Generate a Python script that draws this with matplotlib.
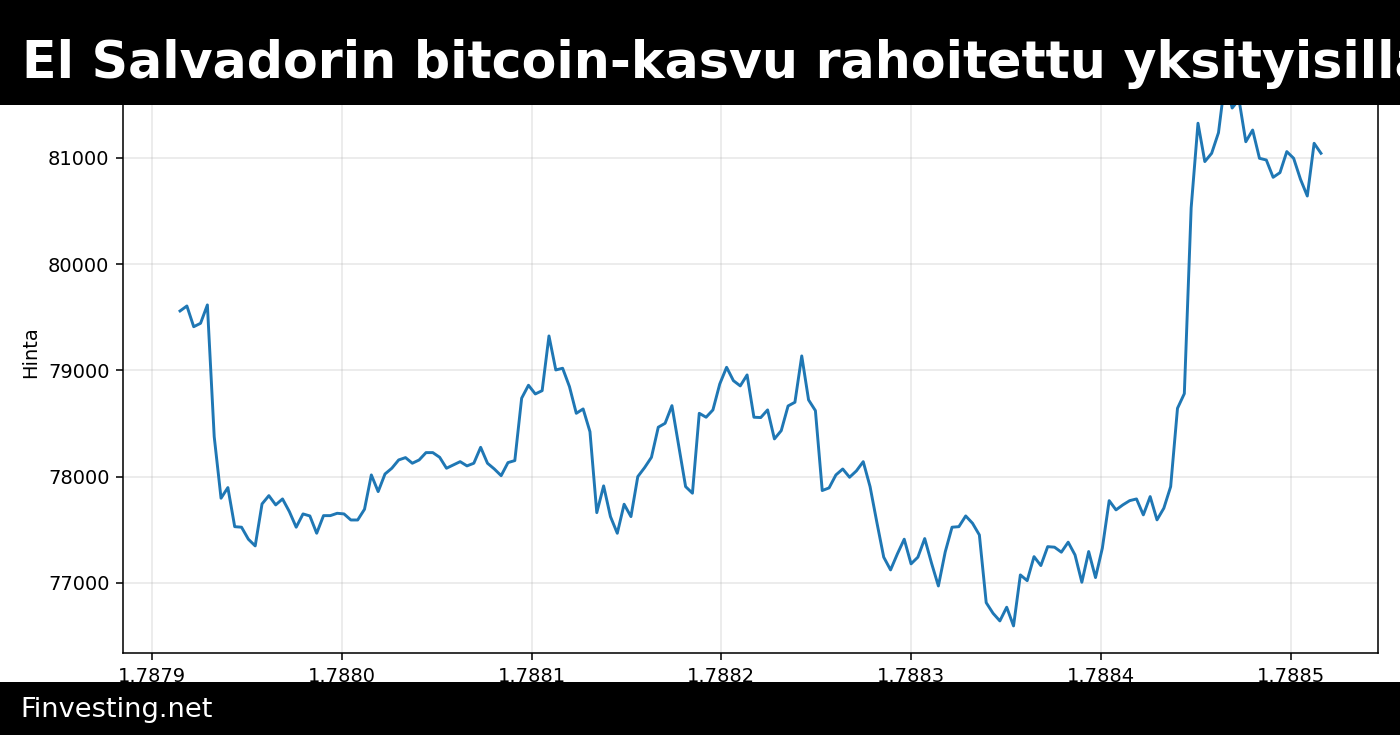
import numpy as np
import matplotlib
matplotlib.use("Agg")
import matplotlib.pyplot as plt
from matplotlib.patches import Rectangle

# ---- data -------------------------------------------------------------
title = "El Salvadorin bitcoin-kasvu rahoitettu yksityisillä varoilla"
footer = "Finvesting.net"
y_label = "Hinta"
y_ticks = [77000, 78000, 79000, 80000, 81000]

start_ts = 1787914800          # epoch seconds of first hourly sample
step_s = 3600                  # hourly samples

prices = [
    79560, 79607, 79412, 79444, 79617, 78377, 77798, 77898, 77530, 77525,
    77412, 77349, 77744, 77822, 77735, 77791, 77672, 77525, 77650, 77631,
    77468, 77634, 77634, 77656, 77650, 77593, 77593, 77694, 78017, 77860,
    78026, 78080, 78158, 78180, 78127, 78158, 78227, 78227, 78183, 78080,
    78111, 78142, 78102, 78127, 78277, 78127, 78073, 78010, 78133, 78152,
    78739, 78861, 78779, 78810, 79325, 79005, 79021, 78848, 78597, 78638,
    78424, 77662, 77914, 77625, 77468, 77741, 77625, 78001, 78086, 78183,
    78466, 78503, 78669, 78290, 77907, 77845, 78597, 78560, 78629, 78873,
    79030, 78904, 78855, 78958, 78560, 78557, 78629, 78356, 78434, 78666,
    78701, 79137, 78723, 78622, 77870, 77895, 78017, 78073, 77995, 78055,
    78142, 77907, 77569, 77243, 77123, 77274, 77412, 77180, 77243, 77418,
    77186, 76972, 77292, 77525, 77530, 77631, 77562, 77452, 76815, 76715,
    76643, 76772, 76596, 77076, 77022, 77248, 77164, 77342, 77337, 77290,
    77384, 77264, 77007, 77296, 77051, 77328, 77775, 77688, 77735, 77775,
    77791, 77641, 77813, 77594, 77704, 77907, 78644, 78782, 80530, 81327,
    80966, 81044, 81238, 81750, 81470, 81550, 81153, 81263, 80997, 80981,
    80818, 80862, 81060, 80997, 80800, 80642, 81138, 81044,
]
timestamps = start_ts + step_s * np.arange(len(prices))

# ---- figure -----------------------------------------------------------
fig = plt.figure(figsize=(10, 5.25), dpi=140, facecolor="white")
ax = fig.add_axes([0.08786, 0.11116, 0.89643, 0.81959])

ax.plot(timestamps, prices, color="#1f77b4", linewidth=1.5)
ax.set_yticks(y_ticks)
ax.grid(True, alpha=0.3)
ax.set_ylabel(y_label)
ax.yaxis.set_label_coords(-0.066, 0.5)

# header bar
fig.add_artist(Rectangle((0, 1 - 105 / 735), 1, 105 / 735,
                         transform=fig.transFigure, facecolor="black",
                         edgecolor="none", zorder=10))
fig.text(21.5 / 1400, 1 - 78.3 / 735, title, color="white", fontsize=26.05,
         fontweight="bold", ha="left", va="baseline", zorder=11)

# footer bar
fig.add_artist(Rectangle((0, 0), 1, 53 / 735, transform=fig.transFigure,
                         facecolor="black", edgecolor="none", zorder=10))
fig.text(20 / 1400, 1 - 717.3 / 735, footer, color="white", fontsize=14,
         ha="left", va="baseline", zorder=11)

fig.savefig("out.png", dpi=140, facecolor="white")
